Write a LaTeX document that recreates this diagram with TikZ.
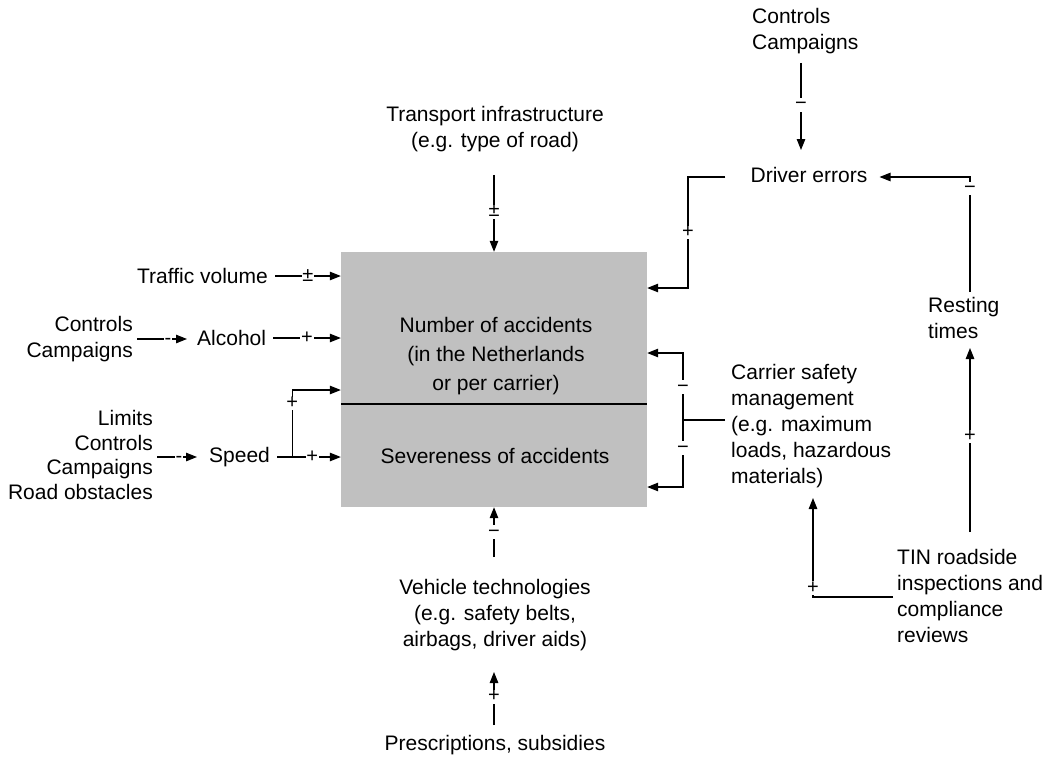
\documentclass[tikz,border=0pt]{standalone}
\usepackage{fontspec}
\setmainfont{Liberation Sans}
\usetikzlibrary{arrows.meta,calc}
\definecolor{boxgray}{RGB}{192,192,192}
\begin{document}
\begin{tikzpicture}[x=1pt,y=-1pt,
  txt/.style={inner sep=0pt, font=\fontsize{21}{26}\selectfont},
  sgn/.style={inner sep=0.8pt, fill=white, text height=11pt, text depth=1pt, font=\fontsize{20}{20}\selectfont},
  con/.style={line width=1.1pt},
  arr/.style={con, -{Triangle[length=11pt,width=8.5pt]}},
]
\useasboundingbox (0,0) rectangle (1046,757);

% central box
\node[fill=boxgray, inner sep=0pt, minimum width=306pt, minimum height=255pt] (box) at (494,379.5) {};
\coordinate (divl) at (341,404);
\draw[con] (divl) -- (divl -| box.east);
\node[txt, align=center, font=\fontsize{21}{29}\selectfont] (nacc) at (496,356) {Number of accidents\\(in the Netherlands\\or per carrier)};
\node[txt] (sev) at (495,456) {Severeness of accidents};

% left side
\node[txt, anchor=east] (tv) at (268,276) {Traffic volume};
\node[txt, anchor=east, align=right] (cc1) at (133,339) {Controls\\Campaigns};
\node[txt, anchor=west] (alc) at (197,338) {Alcohol};
\node[txt, anchor=east, align=right, font=\fontsize{21}{24.5}\selectfont] (lim) at (153,455) {Limits\\Controls\\Campaigns\\Road obstacles};
\node[txt, anchor=west] (spd) at (209,457) {Speed};

% top
\node[txt, align=center] (ti) at (495,129) {Transport infrastructure\\(e.g. type of road)};
\node[txt, anchor=west, align=left] (cc2) at (752,31) {Controls\\Campaigns};
\node[txt] (de) at (809,175) {Driver errors};

% right
\node[txt, anchor=west, align=left] (rt) at (928,318) {Resting\\times};
\node[txt, anchor=west, align=left] (csm) at (731,426) {Carrier safety\\management\\(e.g. maximum\\loads, hazardous\\materials)};
\node[txt, anchor=west, align=left] (tin) at (897,596) {TIN roadside\\inspections and\\compliance\\reviews};

% bottom
\node[txt, align=center] (vt) at (495,615) {Vehicle technologies\\(e.g. safety belts,\\airbags, driver aids)};
\node[txt] (ps) at (495,745) {Prescriptions, subsidies};

% connectors: left
\draw[arr] ($(tv.east)+(7,0)$) -- node[sgn]{±} (tv.east -| box.west);
\draw[arr] ($(cc1.east)+(4,0)$) -- node[sgn,pos=0.62]{-} ($(cc1.east -| alc.west)+(-10,0)$);
\draw[arr] ($(alc.east)+(7,0)$) -- node[sgn]{+} (alc.east -| box.west);
\draw[arr] ($(spd.west -| lim.east)+(4,0)$) -- node[sgn,pos=0.55]{-} ($(spd.west)+(-12,0)$);
\draw[arr] ($(spd.east)+(7,0)$) -- node[sgn,pos=0.55]{+} (spd.east -| box.west);
\coordinate (sb) at ($(spd.east)+(22,0)$);
\coordinate (sbt) at ($(sb)+(0,-67)$);
\draw[arr] (sb) -- node[sgn,pos=0.8]{+} (sbt) -- (sbt -| box.west);

% top
\draw[arr] ($(box.north)+(0,-77)$) -- node[sgn,pos=0.48]{±} (box.north);
\coordinate (cct) at (801,63);
\coordinate (ccb) at (801,150);
\draw[arr] (cct) -- node[sgn,pos=0.48]{−} (ccb);

% driver errors -> box
\coordinate (d1) at ($(de.west)+(-25,2)$);
\coordinate (d2) at (688,177);
\coordinate (d3) at (688,288);
\draw[arr] (d1) -- (d2) -- node[sgn,pos=0.5]{+} (d3) -- (d3 -| box.east);

% resting times -> driver errors
\coordinate (r1) at (970,292);
\coordinate (r2) at (970,177);
\draw[arr] (r1) -- node[sgn,pos=0.9]{−} (r2) -- ($(de.east)+(12,2)$);

% TIN -> resting times
\coordinate (t1) at (970,532);
\coordinate (t2) at (970,348);
\draw[arr] (t1) -- node[sgn,pos=0.52]{+} (t2);

% TIN -> carrier
\coordinate (c1) at (893,597);
\coordinate (c2) at (813,597);
\coordinate (c3) at (813,498);
\draw[arr] (c1) -- (c2) -- node[sgn,pos=0.09]{+} (c3);

% carrier -> box
\coordinate (m1) at (725,420);
\coordinate (m2) at (683,420);
\coordinate (m3) at (683,353);
\coordinate (m4) at (683,487);
\draw[con] (m1) -- (m2);
\draw[arr] (m2) -- node[sgn,pos=0.49]{−} (m3) -- (m3 -| box.east);
\draw[arr] (m2) -- node[sgn,pos=0.42]{−} (m4) -- (m4 -| box.east);

% bottom
\coordinate (v1) at (494,557);
\draw[arr] (v1) -- node[sgn,pos=0.5]{−} (v1 |- box.south);
\coordinate (p1) at (494,725);
\coordinate (p2) at (494,672);
\draw[arr] (p1) -- node[sgn,pos=0.53]{+} (p2);
\end{tikzpicture}
\end{document}
